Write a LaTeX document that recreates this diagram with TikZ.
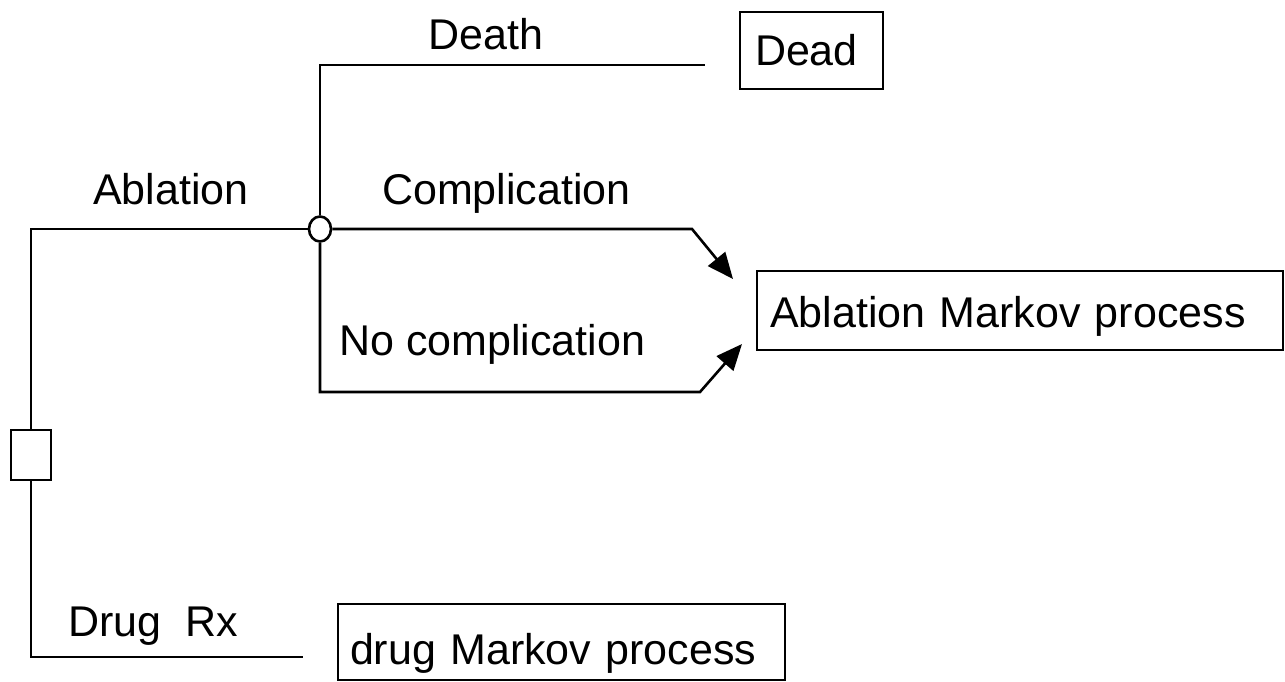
\documentclass[tikz,border=0pt]{standalone}
\usepackage{fontspec}
\setmainfont{Liberation Sans}
\usetikzlibrary{arrows.meta,shapes.geometric}
\begin{document}
\begin{tikzpicture}[x=1pt,y=-1pt,
  every node/.style={font=\fontsize{43}{50}\selectfont},
  edge/.style={line width=2.6pt},
  arr/.style={edge,-{Triangle[length=26pt,width=22pt]}},
  lbl/.style={anchor=base west,inner sep=0pt},
  box/.style={draw,line width=2pt,align=left,inner ysep=0pt,text depth=0pt},
  decision/.style={draw,line width=2.6pt,rectangle,minimum width=40pt,minimum height=50pt,inner sep=0pt},
  chance/.style={draw,line width=2.6pt,ellipse,minimum width=22pt,minimum height=25pt,inner sep=0pt}]
\useasboundingbox (0,0) rectangle (1285,682);
% nodes
\node[decision] (dec) at (31,455) {};
\node[chance] (ch) at (320,229) {};
\node[box,inner xsep=15pt,text width=113pt,minimum height=77pt,text height=31pt] (dead) at (811.5,50.5) {Dead};
\node[box,inner xsep=13pt,text width=500pt,minimum height=79pt,text height=33pt] (abl) at (1020,310.5) {Ablation Markov process};
\node[box,inner xsep=12pt,text width=423pt,minimum height=76pt,text height=44pt] (drug) at (561.5,642) {drug Markov process};
% connector ends
\coordinate (deathend) at (705,65);
\coordinate (compbend) at (692,229);
\coordinate (compltip) at (733,279);
\coordinate (nocbend) at (700,392);
\coordinate (noctip) at (742,344);
\coordinate (drugend) at (303,657);
% connectors
\draw[edge] (dec.north) |- (ch.west);
\draw[edge] (dec.south) |- (drugend);
\draw[edge] (ch.north) |- (deathend);
\draw[arr] (ch.east) -- (compbend) -- (compltip);
\draw[arr] (ch.south) |- (nocbend) -- (noctip);
% labels
\node[lbl] (ldeath) at (428,50) {Death};
\node[lbl] (labl) at (93,204) {Ablation};
\node[lbl] (lcomp) at (382,204) {Complication};
\node[lbl] (lnoc) at (339,355) {No complication};
\node[lbl] (ldrug) at (68,636) {Drug\ \ Rx};
\end{tikzpicture}
\end{document}
